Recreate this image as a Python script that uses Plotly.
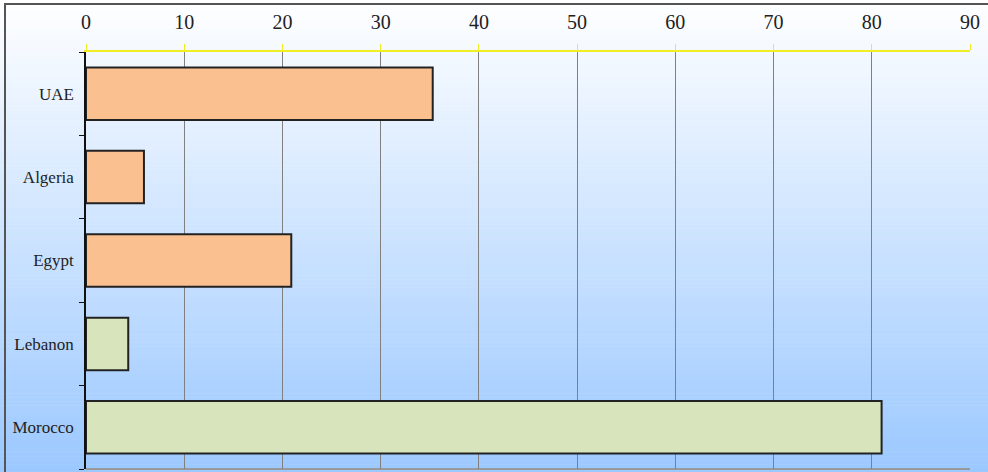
import plotly.graph_objects as go

categories = ["UAE", "Algeria", "Egypt", "Lebanon", "Morocco"]
values = [35.3, 5.9, 20.9, 4.3, 81.0]
colors = ["#fac090", "#fac090", "#fac090", "#d7e4bc", "#d7e4bc"]
x_ticks = [0, 10, 20, 30, 40, 50, 60, 70, 80, 90]

W, H = 988, 472
ml, mr, mt, mb = 86, 18, 52, 3
pw, ph = W - ml - mr, H - mt - mb

fig = go.Figure(go.Bar(
    y=categories, x=values, orientation="h",
    marker=dict(color=colors, line=dict(color="#222222", width=2)),
    width=0.63, showlegend=False, hoverinfo="x+y",
))

def px_to_paper_x(p):
    return (p - ml) / pw

def px_to_paper_y(p):
    return (H - mb - p) / ph

shapes = []
# vertical gradient background (white to light blue)
n = 120
for i in range(n):
    y0p = H * i / n
    y1p = H * (i + 1) / n + 0.5
    t = (i + 0.5) / n
    r = round(255 - t * 100)
    g = round(255 - t * 55)
    b = 255
    shapes.append(dict(type="rect", xref="paper", yref="paper",
                       x0=px_to_paper_x(-2), x1=px_to_paper_x(W + 2),
                       y0=px_to_paper_y(y1p), y1=px_to_paper_y(y0p),
                       fillcolor=f"rgb({r},{g},{b})", line=dict(width=0), layer="below"))
# outer frame
shapes.append(dict(type="rect", xref="paper", yref="paper",
                   x0=px_to_paper_x(5), x1=px_to_paper_x(W + 5),
                   y0=px_to_paper_y(H + 5), y1=px_to_paper_y(4),
                   line=dict(color="#555555", width=2), fillcolor="rgba(0,0,0,0)", layer="above"))
# bottom plot border
shapes.append(dict(type="line", xref="paper", yref="paper", x0=0, x1=1, y0=0, y1=0,
                   line=dict(color="#999999", width=2), layer="below"))

fig.update_layout(
    width=W, height=H,
    margin=dict(l=ml, r=mr, t=mt, b=mb),
    paper_bgcolor="white",
    plot_bgcolor="rgba(0,0,0,0)",
    font=dict(family="Liberation Serif", size=18, color="#222222"),
    shapes=shapes,
    bargap=0.37,
    xaxis=dict(
        side="top", range=[0, 90], tickvals=x_ticks, ticktext=[str(v) for v in x_ticks],
        showgrid=True, gridcolor="#808080", gridwidth=1,
        showline=True, linecolor="#eeee22", linewidth=2,
        ticks="outside", tickcolor="#eeee22", ticklen=6, tickwidth=1,
        ticklabelstandoff=7, zeroline=False,
        tickfont=dict(size=20, family="Liberation Serif", color="#222222"),
    ),
    yaxis=dict(
        categoryorder="array", categoryarray=categories[::-1],
        showline=True, linecolor="#111111", linewidth=1.5,
        ticks="outside", tickson="boundaries", ticklen=5, tickcolor="#111111",
        ticklabelstandoff=7,
        showgrid=False, zeroline=False,
        tickfont=dict(size=17, family="Liberation Serif", color="#222222"),
    ),
)

fig.write_html("out.html", config={"displayModeBar": False},
               post_script="document.body.style.margin='0';document.body.style.overflow='hidden';")
